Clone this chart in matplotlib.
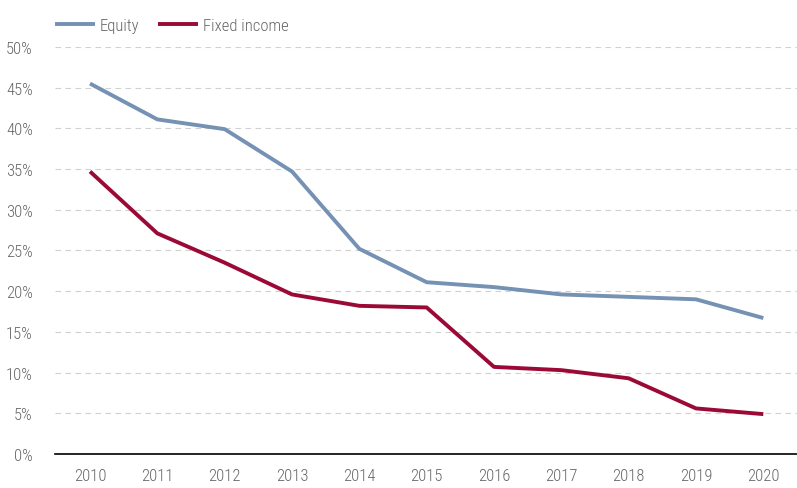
import matplotlib.pyplot as plt
from matplotlib import font_manager
from matplotlib.ticker import FuncFormatter

years = [2010, 2011, 2012, 2013, 2014, 2015, 2016, 2017, 2018, 2019, 2020]
equity = [45.5, 41.1, 39.9, 34.7, 25.2, 21.1, 20.5, 19.6, 19.3, 19.0, 16.7]
fixed_income = [34.7, 27.1, 23.5, 19.6, 18.2, 18.0, 10.7, 10.3, 9.3, 5.6, 4.9]

# narrow font if there is one, otherwise Liberation Sans
installed = {f.name for f in font_manager.fontManager.ttflist}
font = 'Liberation Sans'
for name in ['Roboto Condensed', 'Liberation Sans Narrow', 'Open Sans Condensed', 'DejaVu Sans Condensed']:
    if name in installed:
        font = name
        break
plt.rcParams['font.family'] = [font, 'DejaVu Sans']
plt.rcParams['font.weight'] = 'light'
grey = '#666666'

fig = plt.figure(figsize=(7.97, 4.89), dpi=100)
ax = fig.add_axes([0.069, 0.0695, 0.931, 0.8325])

ax.plot(years, equity, color='#7591b3', lw=2.8, label='Equity', solid_capstyle='butt')
ax.plot(years, fixed_income, color='#9b0a36', lw=2.8, label='Fixed income', solid_capstyle='butt')

ax.set_xlim(2009.48, 2020.5)
ax.set_ylim(0, 50)
ax.set_xticks(years)
ax.set_yticks(range(0, 51, 5))
ax.yaxis.set_major_formatter(FuncFormatter(lambda v, p: f"{int(v)}%"))
ax.grid(axis='y', color='#d0d0d0', ls=(0, (5, 4)), lw=0.8)
ax.set_axisbelow(True)

for s in ['top', 'right', 'left']:
    ax.spines[s].set_visible(False)
ax.spines['bottom'].set_color('black')
ax.spines['bottom'].set_linewidth(1.2)
ax.tick_params(length=0, labelsize=12, colors=grey, pad=10)
ax.tick_params(axis='y', pad=16)

leg = ax.legend(loc='lower left', bbox_to_anchor=(-0.016, 1.005), ncol=2, frameon=False,
                fontsize=12, handlelength=2.4, handletextpad=0.3, columnspacing=1.1,
                borderaxespad=0.3)
for t in leg.get_texts():
    t.set_color(grey)

fig.savefig('out.png', dpi=100)
